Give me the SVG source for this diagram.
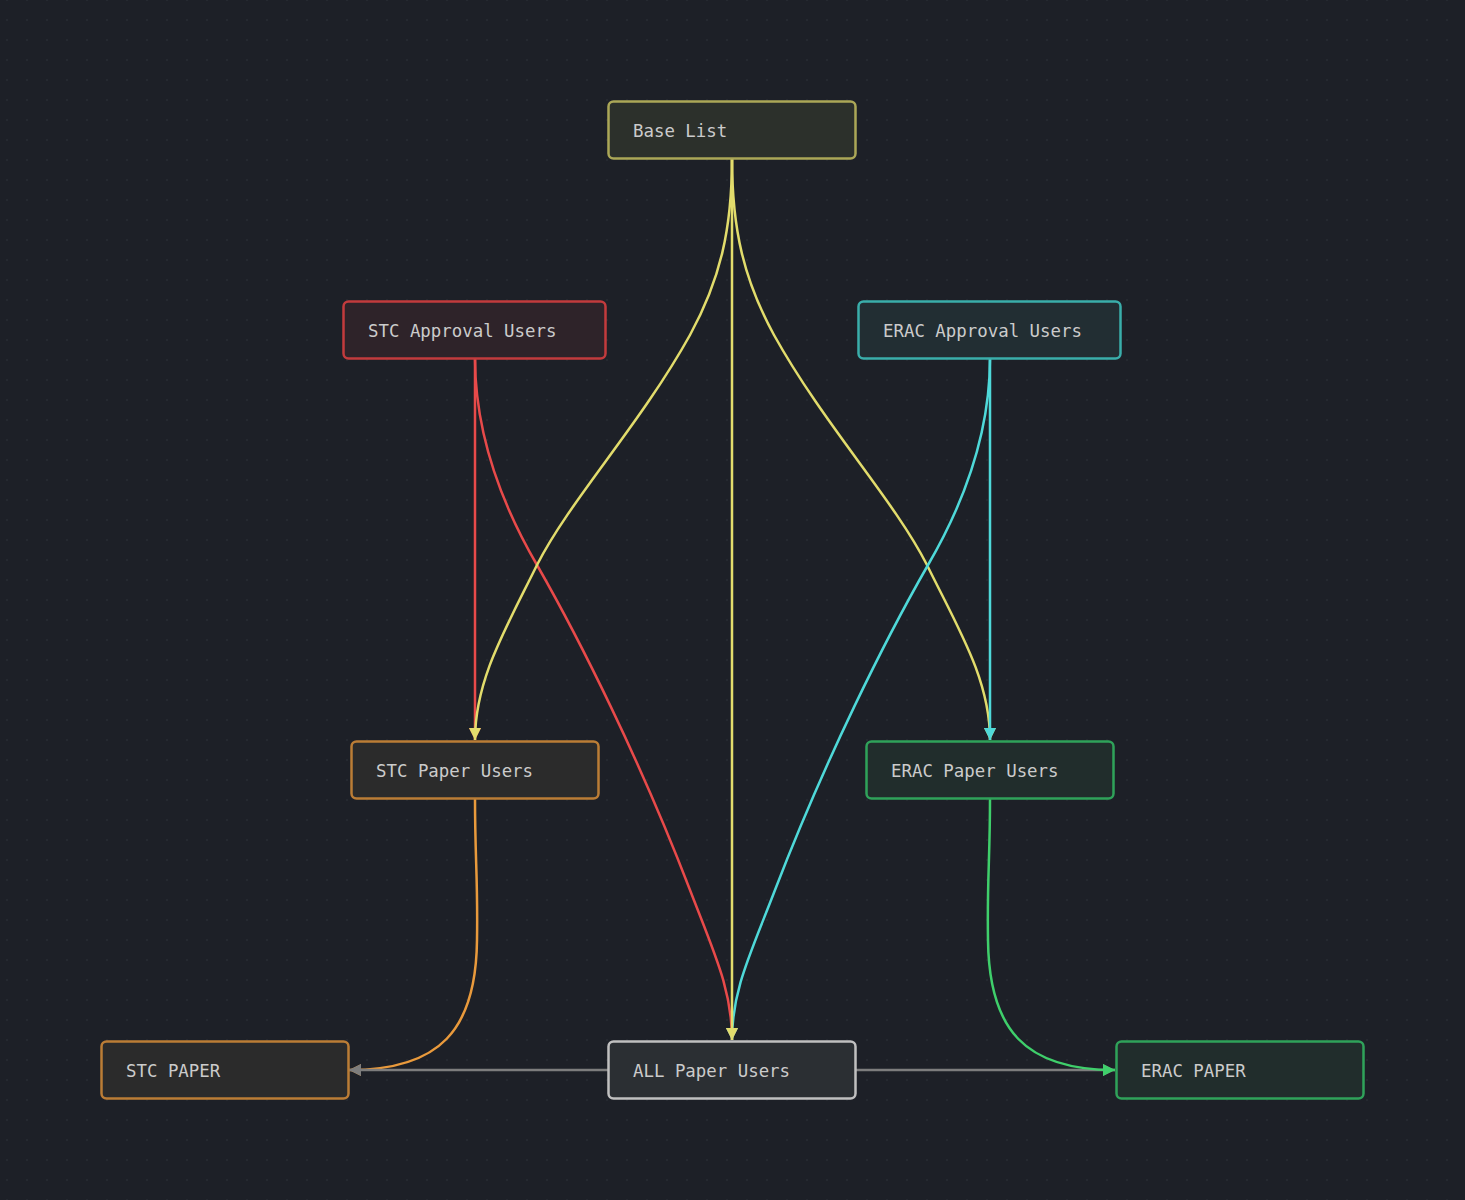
<svg xmlns="http://www.w3.org/2000/svg" width="1465" height="1200" viewBox="0 0 1465 1200">
  <defs>
    <pattern id="grid" patternUnits="userSpaceOnUse" x="-3" y="-10" width="20" height="20">
      <rect x="9.3" y="9.3" width="1.4" height="1.4" fill="#2d3238"/>
    </pattern>
    <marker id="arr-yellow" viewBox="0 0 12 12" refX="12" refY="6" markerWidth="12" markerHeight="12" markerUnits="userSpaceOnUse" orient="auto">
      <path d="M0,0 L12,6 L0,12 Z" fill="#e2dc6c"/>
    </marker>
    <marker id="arr-red" viewBox="0 0 12 12" refX="12" refY="6" markerWidth="12" markerHeight="12" markerUnits="userSpaceOnUse" orient="auto">
      <path d="M0,0 L12,6 L0,12 Z" fill="#e84a4a"/>
    </marker>
    <marker id="arr-cyan" viewBox="0 0 12 12" refX="12" refY="6" markerWidth="12" markerHeight="12" markerUnits="userSpaceOnUse" orient="auto">
      <path d="M0,0 L12,6 L0,12 Z" fill="#4fd9d9"/>
    </marker>
    <marker id="arr-orange" viewBox="0 0 12 12" refX="12" refY="6" markerWidth="12" markerHeight="12" markerUnits="userSpaceOnUse" orient="auto">
      <path d="M0,0 L12,6 L0,12 Z" fill="#e99a3c"/>
    </marker>
    <marker id="arr-gray" viewBox="0 0 12 12" refX="12" refY="6" markerWidth="12" markerHeight="12" markerUnits="userSpaceOnUse" orient="auto">
      <path d="M0,0 L12,6 L0,12 Z" fill="#7d7d7d"/>
    </marker>
    <marker id="arr-green" viewBox="0 0 12 12" refX="12" refY="6" markerWidth="12" markerHeight="12" markerUnits="userSpaceOnUse" orient="auto">
      <path d="M0,0 L12,6 L0,12 Z" fill="#3fcf6b"/>
    </marker>
  </defs>
  <style>
    .node rect { stroke-width: 2.5; }
    .node text { font-family: "DejaVu Sans Mono", "Liberation Mono", monospace; font-size: 17.4px; fill: #cbcbcb; dominant-baseline: central; }
    .edge { fill: none; stroke-width: 2.5; }
    .yellow { stroke: #e2dc6c; }
    .red { stroke: #e84a4a; }
    .cyan { stroke: #4fd9d9; }
    .orange { stroke: #e99a3c; }
    .gray { stroke: #7d7d7d; }
    .green { stroke: #3fcf6b; }
  </style>

  <!-- canvas -->
  <rect width="1465" height="1200" fill="#1d2027"/>
  <rect width="1465" height="1200" fill="url(#grid)"/>

  <!-- connectors -->
  <g id="edges">
    <path class="edge red" d="M475,358 L475,740" marker-end="url(#arr-red)"/>
    <path class="edge red" d="M475,358 C475,440 505,510 537,565 C580,640 640,760 690,890 C715,955 732,990 732,1040" marker-end="url(#arr-red)"/>
    <path class="edge yellow" d="M732,158 C732,230 720,280 690,335 C640,425 570,500 537,565 C505,630 475,680 475,740" marker-end="url(#arr-yellow)"/>
    <path class="edge yellow" d="M732,158 C732,230 744,280 774,335 C824,425 894,500 927,565 C959,630 990,680 990,740" marker-end="url(#arr-yellow)"/>
    <path class="edge cyan" d="M990,358 L990,740" marker-end="url(#arr-cyan)"/>
    <path class="edge cyan" d="M990,358 C990,440 960,510 928,565 C885,640 825,760 775,890 C750,955 732,990 732,1040" marker-end="url(#arr-cyan)"/>
    <path class="edge yellow" d="M732,158 L732,1040" marker-end="url(#arr-yellow)"/>
    <path class="edge orange" d="M475,798 C475,860 478,880 477,940 C476,1030 440,1070 349,1070" marker-end="url(#arr-orange)"/>
    <path class="edge gray" d="M608,1070 L349,1070" marker-end="url(#arr-gray)"/>
    <path class="edge gray" d="M855,1070 L1115,1070" marker-end="url(#arr-gray)"/>
    <path class="edge green" d="M990,798 C990,860 987,880 988,940 C989,1030 1025,1070 1115,1070" marker-end="url(#arr-green)"/>
  </g>

  <!-- nodes -->
  <g id="node-base-list" class="node">
    <rect x="608.5" y="101.5" width="247" height="57" rx="5" fill="#2c302b" stroke="#aba757"/>
    <text x="633" y="131">Base List</text>
  </g>
  <g id="node-stc-approval" class="node">
    <rect x="343.5" y="301.5" width="262" height="57" rx="5" fill="#2e2329" stroke="#c23b3d"/>
    <text x="368" y="331">STC Approval Users</text>
  </g>
  <g id="node-erac-approval" class="node">
    <rect x="858.5" y="301.5" width="262" height="57" rx="5" fill="#222e33" stroke="#3aaeab"/>
    <text x="883" y="331">ERAC Approval Users</text>
  </g>
  <g id="node-stc-paper-users" class="node">
    <rect x="351.5" y="741.5" width="247" height="57" rx="5" fill="#2b2b2b" stroke="#bb7d36"/>
    <text x="376" y="771">STC Paper Users</text>
  </g>
  <g id="node-erac-paper-users" class="node">
    <rect x="866.5" y="741.5" width="247" height="57" rx="5" fill="#212d2c" stroke="#2fa25a"/>
    <text x="891" y="771">ERAC Paper Users</text>
  </g>
  <g id="node-stc-paper" class="node">
    <rect x="101.5" y="1041.5" width="247" height="57" rx="5" fill="#2b2b2b" stroke="#bb7d36"/>
    <text x="126" y="1071">STC PAPER</text>
  </g>
  <g id="node-all-paper-users" class="node">
    <rect x="608.5" y="1041.5" width="247" height="57" rx="5" fill="#2b2f33" stroke="#c0c0c0"/>
    <text x="633" y="1071">ALL Paper Users</text>
  </g>
  <g id="node-erac-paper" class="node">
    <rect x="1116.5" y="1041.5" width="247" height="57" rx="5" fill="#212d2c" stroke="#2fa25a"/>
    <text x="1141" y="1071">ERAC PAPER</text>
  </g>
</svg>
